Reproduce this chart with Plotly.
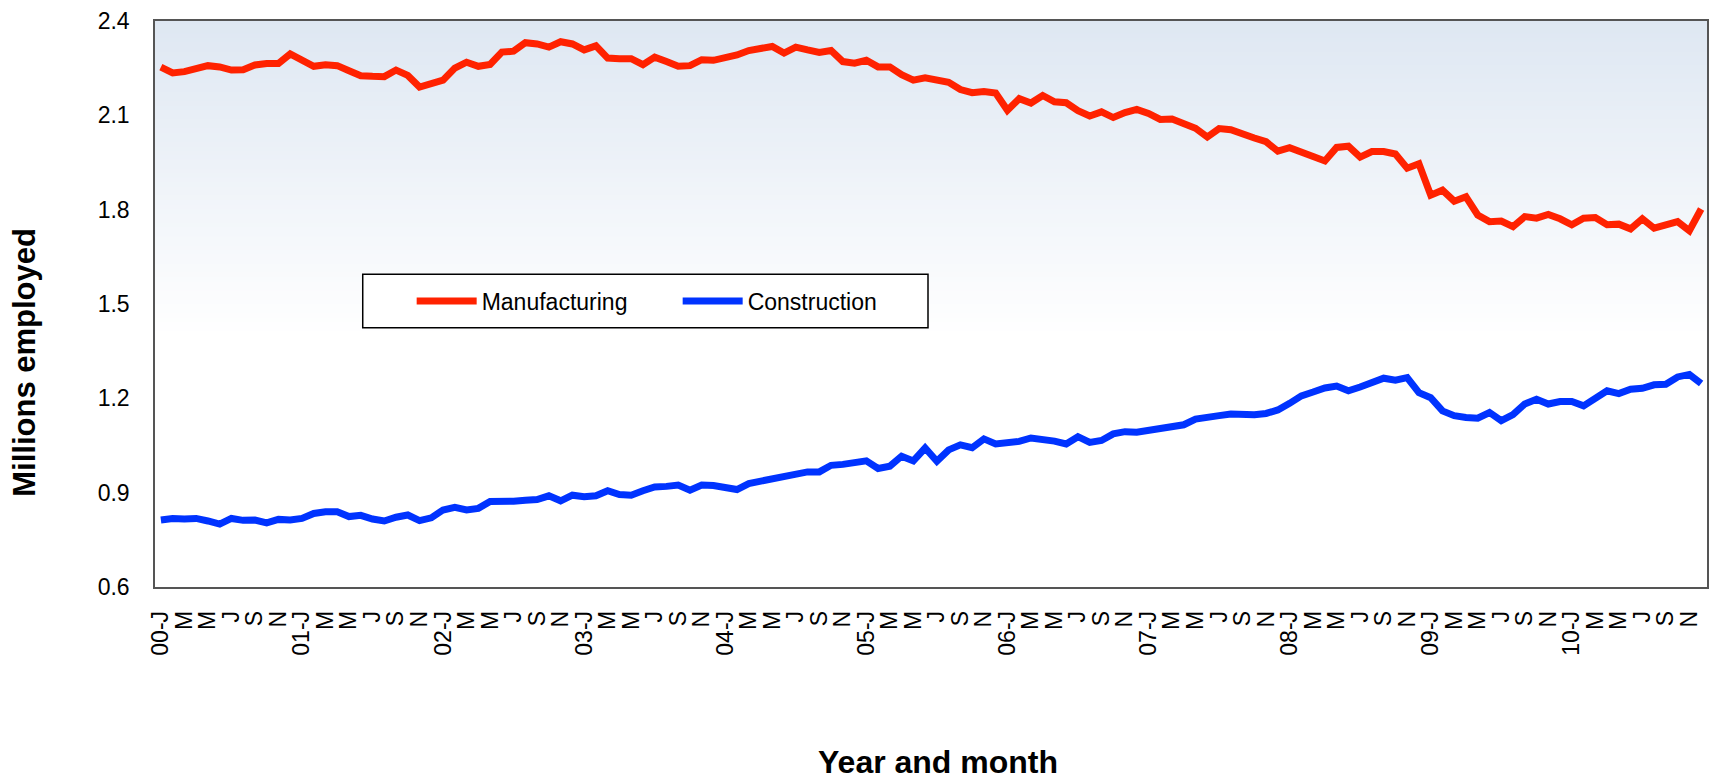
import plotly.graph_objects as go

YEARS = ["00", "01", "02", "03", "04", "05", "06", "07", "08", "09", "10"]
MONTH_INITIALS = ["J", "F", "M", "A", "M", "J", "J", "A", "S", "O", "N", "D"]

manufacturing = [
    2.253, 2.235, 2.239, 2.248, 2.258, 2.254, 2.244, 2.245, 2.260, 2.265, 2.265, 2.295,
    2.275, 2.256, 2.261, 2.258, 2.242, 2.226, 2.224, 2.223, 2.244, 2.227, 2.190, 2.203,
    2.212, 2.250, 2.269, 2.256, 2.262, 2.301, 2.304, 2.331, 2.327, 2.317, 2.334, 2.327,
    2.308, 2.321, 2.282, 2.280, 2.280, 2.261, 2.285, 2.271, 2.256, 2.258, 2.277, 2.275,
    2.282, 2.292, 2.306, 2.313, 2.319, 2.298, 2.317, 2.308, 2.300, 2.306, 2.271, 2.266,
    2.275, 2.254, 2.254, 2.229, 2.212, 2.219, 2.212, 2.205, 2.182, 2.172, 2.176, 2.171,
    2.116, 2.153, 2.139, 2.163, 2.143, 2.140, 2.115, 2.098, 2.111, 2.093, 2.109, 2.119,
    2.106, 2.087, 2.088, 2.076, 2.059, 2.031, 2.058, 2.054, 2.038, 2.028, 2.016, 1.986,
    1.997, 1.980, 1.969, 1.955, 1.998, 2.002, 1.967, 1.985, 1.985, 1.977, 1.932, 1.946,
    1.846, 1.862, 1.827, 1.841, 1.783, 1.762, 1.764, 1.746, 1.778, 1.773, 1.785, 1.771,
    1.752, 1.773, 1.775, 1.752, 1.754, 1.739, 1.771, 1.741, 1.752, 1.762, 1.733, 1.802,
]

construction = [
    0.813, 0.818, 0.816, 0.818, 0.810, 0.800, 0.818, 0.812, 0.813, 0.804, 0.815, 0.813,
    0.818, 0.834, 0.839, 0.839, 0.824, 0.828, 0.816, 0.810, 0.822, 0.829, 0.811, 0.820,
    0.845, 0.853, 0.845, 0.850, 0.872, 0.871, 0.873, 0.876, 0.878, 0.890, 0.874, 0.892,
    0.887, 0.890, 0.906, 0.894, 0.892, 0.906, 0.918, 0.920, 0.924, 0.908, 0.924, 0.923,
    0.916, 0.910, 0.929, 0.936, 0.948, 0.955, 0.962, 0.966, 0.966, 0.987, 0.990, 0.994,
    1.001, 0.977, 0.984, 1.016, 1.001, 1.042, 1.000, 1.036, 1.052, 1.043, 1.071, 1.055,
    1.057, 1.063, 1.074, 1.071, 1.064, 1.055, 1.078, 1.060, 1.066, 1.087, 1.094, 1.092,
    1.097, 1.106, 1.108, 1.116, 1.134, 1.142, 1.145, 1.150, 1.147, 1.148, 1.152, 1.163,
    1.184, 1.208, 1.220, 1.233, 1.239, 1.224, 1.236, 1.253, 1.264, 1.258, 1.266, 1.218,
    1.202, 1.160, 1.145, 1.139, 1.137, 1.155, 1.129, 1.148, 1.182, 1.197, 1.182, 1.190,
    1.190, 1.176, 1.197, 1.224, 1.215, 1.229, 1.232, 1.243, 1.245, 1.268, 1.276, 1.247,
]

# categories: one per month, Jan 2000 .. Dec 2010
categories = [f"20{y}-{m + 1:02d}" for y in YEARS for m in range(12)]
tick_vals = [c for i, c in enumerate(categories) if i % 2 == 0]
tick_text = [
    (f"{y}-{MONTH_INITIALS[m]}" if m == 0 else MONTH_INITIALS[m])
    for y in YEARS for m in range(0, 12, 2)
]

FONT = "Liberation Sans, Arial, sans-serif"
RED = "#FF2200"
BLUE = "#0033FF"

fig = go.Figure()
fig.add_trace(go.Scatter(x=categories, y=manufacturing, mode="lines", name="Manufacturing",
                         line=dict(color=RED, width=7)))
fig.add_trace(go.Scatter(x=categories, y=construction, mode="lines", name="Construction",
                         line=dict(color=BLUE, width=7)))

W, H = 1717, 780
ML, MR, MT, MB = 155, 8, 17, 193
pw = W - ML - MR
ph = H - MT - MB


def px_x(px):
    return (px - ML) / pw


def px_y(py):
    return (H - MB - py) / ph


# vertical gradient background (light blue at top fading to white)
shapes = []
top_rgb = (222, 231, 242)
white_from = px_y(335)
N = 70
for i in range(N):
    f0 = i / N
    f1 = (i + 1) / N
    t = (f0 + f1) / 2
    r = round(top_rgb[0] + (255 - top_rgb[0]) * t)
    g = round(top_rgb[1] + (255 - top_rgb[1]) * t)
    b = round(top_rgb[2] + (255 - top_rgb[2]) * t)
    y_hi = 1 - (1 - white_from) * f0
    y_lo = 1 - (1 - white_from) * f1
    shapes.append(dict(type="rect", xref="paper", yref="paper", x0=0, x1=1,
                       y0=y_lo, y1=min(1, y_hi + 0.002), fillcolor=f"rgb({r},{g},{b})",
                       line=dict(width=0), layer="below"))

# legend box
shapes.append(dict(type="rect", xref="paper", yref="paper",
                   x0=px_x(363), x1=px_x(929), y0=px_y(326), y1=px_y(272),
                   fillcolor="white", line=dict(color="black", width=1.5), layer="above"))

fig.update_layout(
    width=W, height=H,
    margin=dict(l=ML, r=MR, t=MT, b=MB),
    paper_bgcolor="white",
    plot_bgcolor="white",
    font=dict(family=FONT, size=23, color="black"),
    shapes=shapes,
    showlegend=True,
    legend=dict(orientation="h", x=px_x(412), y=px_y(299), xanchor="left", yanchor="middle",
                bgcolor="rgba(0,0,0,0)", borderwidth=0,
                font=dict(family=FONT, size=23, color="black"),
                entrywidth=191, entrywidthmode="pixels", itemwidth=60),
    xaxis=dict(type="category", range=[-0.5, len(categories) - 0.5],
               tickmode="array", tickvals=tick_vals, ticktext=tick_text,
               tickangle=-90, ticks="", showgrid=False, zeroline=False,
               showline=True, linecolor="#555555", linewidth=1.5, mirror=True,
               ticklabelstandoff=13,
               tickfont=dict(family=FONT, size=23, color="black")),
    yaxis=dict(range=[0.6, 2.4], dtick=0.3, tick0=0.6, tickformat=".1f",
               ticks="", showgrid=False, zeroline=False,
               showline=True, linecolor="#555555", linewidth=1.5, mirror=True,
               ticklabelstandoff=19,
               tickfont=dict(family=FONT, size=23, color="black")),
    annotations=[
        dict(text="<b>Year and month</b>", xref="paper", yref="paper",
             x=px_x(939), y=px_y(763), xanchor="center", yanchor="middle",
             showarrow=False, font=dict(family=FONT, size=32, color="black")),
        dict(text="<b>Millions employed</b>", xref="paper", yref="paper",
             x=px_x(24), y=px_y(361), xanchor="center", yanchor="middle",
             textangle=-90, showarrow=False,
             font=dict(family=FONT, size=31, color="black")),
    ],
)

fig.write_html("out.html",
               config={"displayModeBar": False},
               post_script="document.body.style.margin='0px';document.body.style.overflow='hidden';")
